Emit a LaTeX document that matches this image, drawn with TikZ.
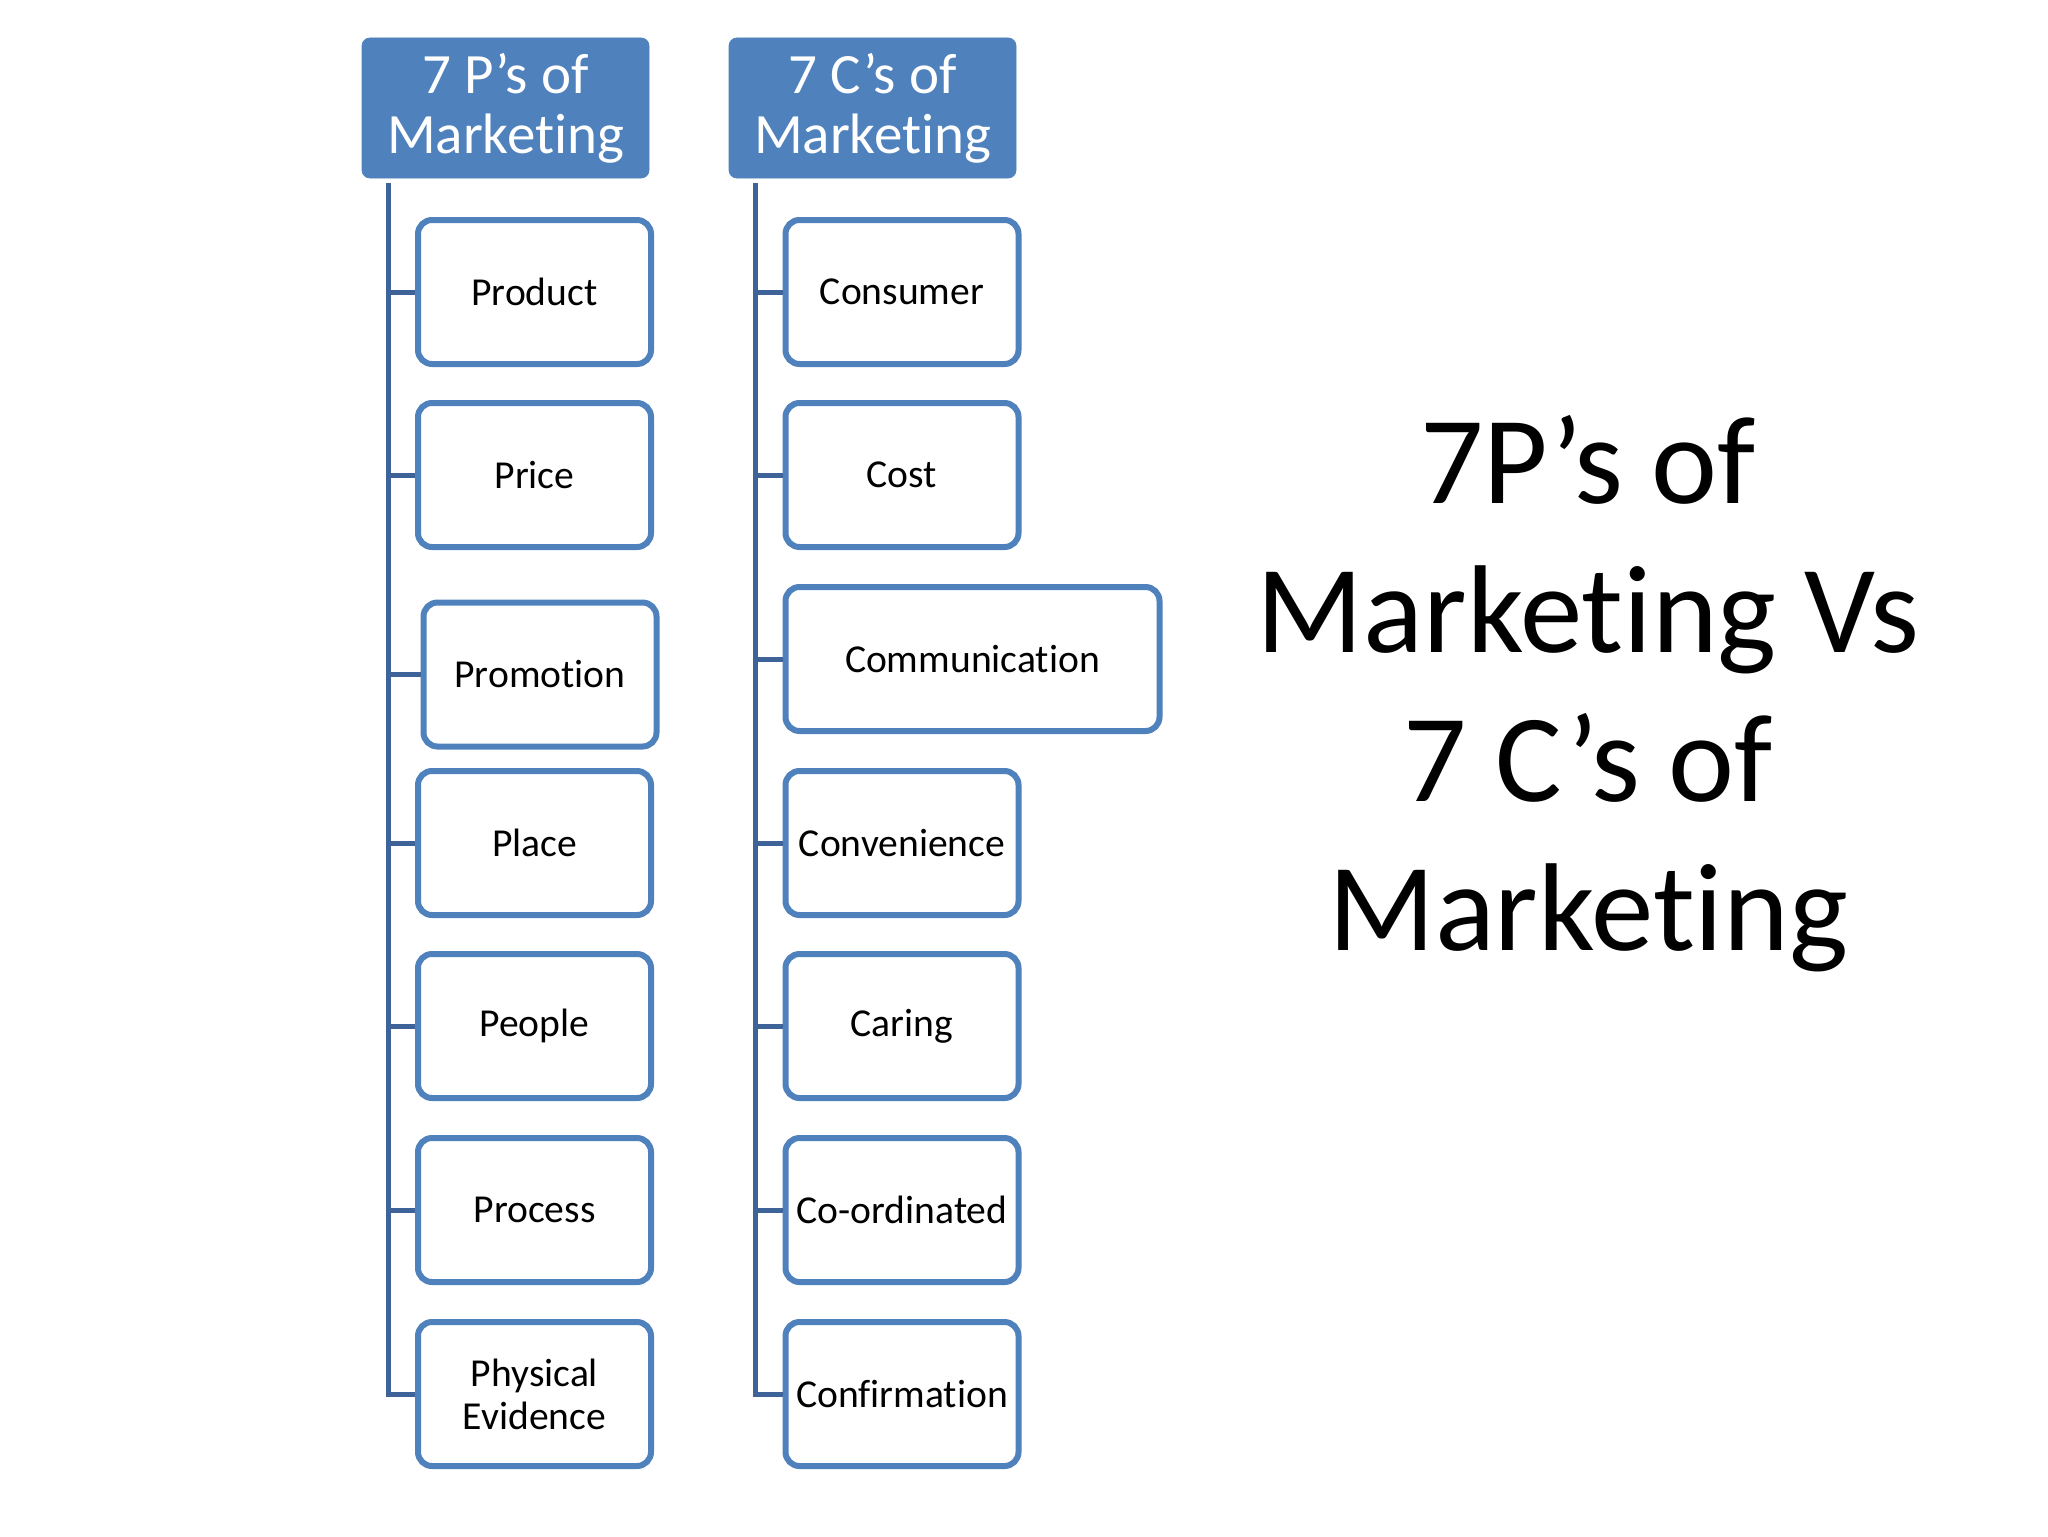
\documentclass[tikz,border=0pt]{standalone}
\usepackage{fontspec}
\setmainfont{Carlito}[RawFeature={-liga;-clig;-dlig}]
\newcommand{\tiNL}{t\kern0pt i}
\newcommand{\fiNL}{f\kern0pt i}
\definecolor{boxblue}{HTML}{4F81BD}
\definecolor{linkblue}{HTML}{3D6399}
\begin{document}
\begin{tikzpicture}[x=0.5pt,y=-0.5pt,
 headbox/.style={fill=boxblue, draw=boxblue, rounded corners=4pt, minimum width=143.5pt, minimum height=70pt, text=white, align=center, font=\fontsize{28.5}{30}\selectfont, inner sep=0pt},
 itembox/.style={draw=boxblue, line width=3pt, fill=white, rounded corners=7pt, minimum width=116.5pt, minimum height=72pt, align=center, font=\fontsize{19.8}{21.5}\selectfont, inner sep=0pt},
 widebox/.style={itembox, minimum width=187pt},
 link/.style={draw=linkblue, line width=2.5pt},
 bigtext/.style={font=\fontsize{62.5}{74.5}\selectfont, anchor=base, inner sep=0pt}]
\useasboundingbox[fill=white] (0,0) rectangle (2048,1536);

% 7 P's column
\node[headbox] (ph) at (505.5,108) {7 P’s of\\Marke\tiNL ng};
\node[itembox] (p1) at (534.5,292) {Product};
\node[itembox] (p2) at (534.5,475) {Price};
\node[itembox] (p3) at (540,674.5) {Promo\tiNL on};
\node[itembox] (p4) at (534.5,843) {Place};
\node[itembox] (p5) at (534.5,1026) {People};
\node[itembox] (p6) at (534.5,1210) {Process};
\node[itembox] (p7) at (534.5,1394) {Physical\\Evidence};
\coordinate (ptop) at (388,183);
\foreach \n in {p1,p2,p3,p4,p5,p6,p7} \draw[link] (ptop) |- (\n.west);

% 7 C's column
\node[headbox] (ch) at (872.5,108) {7 C’s of\\Marke\tiNL ng};
\node[itembox] (c1) at (902,292) {Consumer};
\node[itembox] (c2) at (902,475) {Cost};
\node[widebox] (c3) at (972.5,659) {Communica\tiNL on};
\node[itembox] (c4) at (902,843) {Convenience};
\node[itembox] (c5) at (902,1026) {Caring};
\node[itembox] (c6) at (902,1210) {Co-ordinated};
\node[itembox] (c7) at (902,1394) {Con\fiNL rma\tiNL on};
\coordinate (ctop) at (755,183);
\foreach \n in {c1,c2,c3,c4,c5,c6,c7} \draw[link] (ctop) |- (\n.west);

% Title
\node[bigtext] (t1) at (1588,503) {7P’s of};
\node[bigtext] (t2) at (1588,652) {Marke\tiNL ng Vs};
\node[bigtext] (t3) at (1588,801) {7 C’s of};
\node[bigtext] (t4) at (1588,950) {Marke\tiNL ng};
\end{tikzpicture}
\end{document}
